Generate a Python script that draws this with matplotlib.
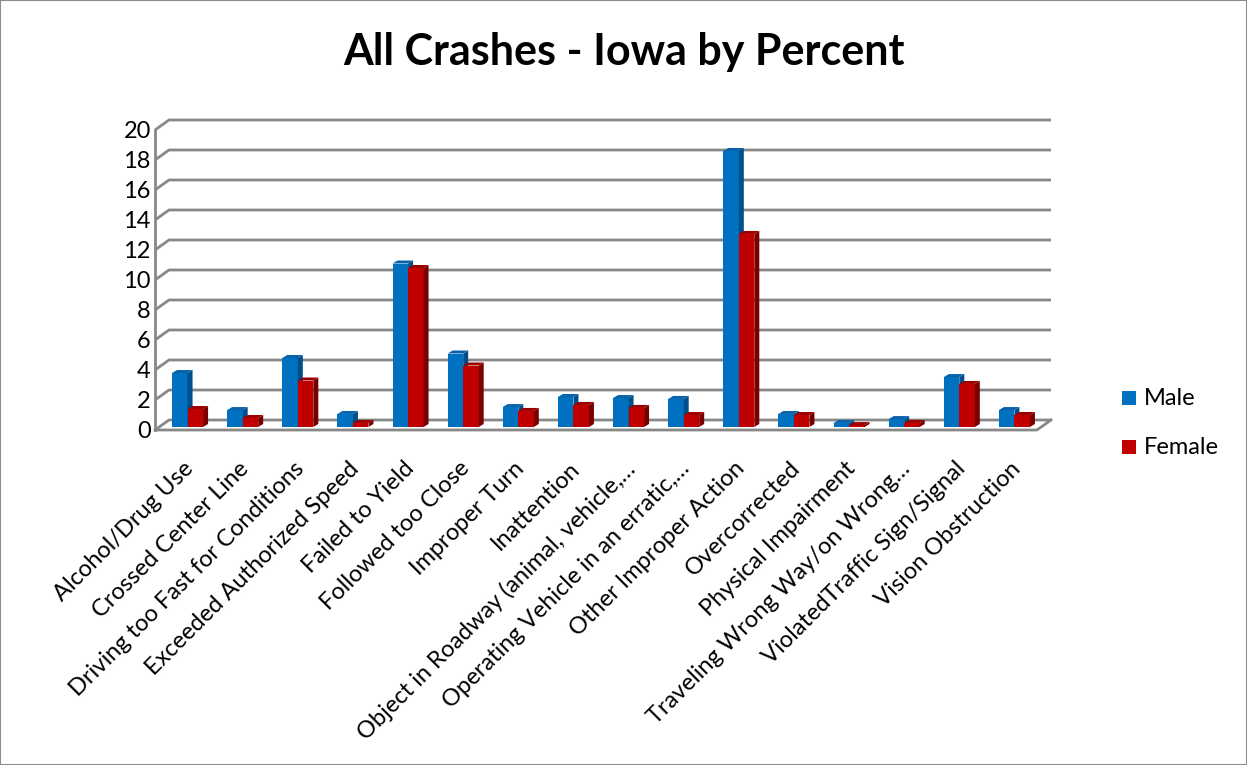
import matplotlib
matplotlib.use("Agg")
import matplotlib.pyplot as plt
from matplotlib.patches import Polygon, Rectangle

plt.rcParams['font.family'] = ['Lato', 'DejaVu Sans']

categories = [
    "Alcohol/Drug Use", "Crossed Center Line", "Driving too Fast for Conditions",
    "Exceeded Authorized Speed", "Failed to Yield", "Followed too Close",
    "Improper Turn", "Inattention", "Object in Roadway (animal, vehicle,\u2026",
    "Operating Vehicle in an erratic,\u2026", "Other Improper Action", "Overcorrected",
    "Physical Impairment", "Traveling Wrong Way/on Wrong\u2026",
    "ViolatedTraffic Sign/Signal", "Vision Obstruction",
]
male = [3.6, 1.13, 4.6, 0.87, 10.9, 4.9, 1.33, 2.0, 1.93, 1.87, 18.4, 0.87, 0.27, 0.53, 3.33, 1.13]
female = [1.2, 0.6, 3.1, 0.27, 10.6, 4.1, 1.07, 1.47, 1.27, 0.8, 12.87, 0.8, 0.13, 0.27, 2.87, 0.8]
yticks = list(range(0, 21, 2))

W, H = 1247, 765
fig = plt.figure(figsize=(W / 100, H / 100), dpi=100)
fig.patches.append(Rectangle((0, 0), 1, 1, transform=fig.transFigure, fill=False,
                             edgecolor='#8c8c8c', linewidth=1.5))

left_px, right_px, bot_px, top_px = 155, 1037, 430, 130
ax = fig.add_axes([left_px / W, (H - bot_px) / H, (right_px - left_px) / W, (bot_px - top_px) / H])
n = len(categories)
ax.set_xlim(-0.5, n - 0.5)
ax.set_ylim(0, 20)
for s in ax.spines.values():
    s.set_visible(False)

ux = (right_px - left_px) / n       # px per x unit
uy = (bot_px - top_px) / 20.0       # px per y unit
dX = 14 / ux
dY = 10 / uy
gcol = '#888888'

# walls / gridlines
for v in yticks:
    ax.plot([-0.5, -0.5 + dX, n - 0.5 + dX], [v, v + dY, v + dY], color=gcol, lw=2,
            clip_on=False, zorder=1, solid_capstyle='butt')
ax.plot([-0.5, -0.5], [0, 20], color=gcol, lw=2, clip_on=False, zorder=1)
ax.plot([-0.5, n - 0.5, n - 0.5 + dX], [0, 0, dY], color=gcol, lw=2, clip_on=False, zorder=1)

# bars
bw = 15.5 / ux
bdx = 5 / ux
bdy = 3 / uy
base = 3 / uy
shift = 5 / ux

def bar3d(x0, v, front, side, top):
    x1 = x0 + bw
    yb, yt = base, base + v
    ax.add_patch(Polygon([(x0, yb), (x1, yb), (x1, yt), (x0, yt)], closed=True,
                         facecolor=front, edgecolor='none', zorder=3, clip_on=False))
    ax.add_patch(Polygon([(x1, yb), (x1 + bdx, yb + bdy), (x1 + bdx, yt + bdy), (x1, yt)],
                         closed=True, facecolor=side, edgecolor='none', zorder=3, clip_on=False))
    ax.add_patch(Polygon([(x0, yt), (x1, yt), (x1 + bdx, yt + bdy), (x0 + bdx, yt + bdy)],
                         closed=True, facecolor=top, edgecolor='none', zorder=3, clip_on=False))

for i in range(n):
    c = i + shift
    bar3d(c - bw, male[i], '#0070C0', '#004F8A', '#0A63AA')
    bar3d(c, female[i], '#C00000', '#7A0000', '#9E0000')

ax.set_yticks(yticks)
ax.set_yticklabels([str(v) for v in yticks], fontsize=17)
ax.tick_params(axis='y', length=0, pad=3)
ax.set_xticks(range(n))
ax.set_xticklabels(categories, rotation=45, ha='right', va='top', rotation_mode='anchor', fontsize=17)
ax.tick_params(axis='x', length=0, pad=20)

fig.text(0.5, 1 - 52 / H, "All Crashes - Iowa by Percent", ha='center', va='center',
         fontsize=31, fontweight='bold')

# legend
for lbl, col, ypx in [("Male", '#0070C0', 398), ("Female", '#C00000', 447)]:
    fig.patches.append(Rectangle(((1122) / W, (H - ypx - 7) / H), 14 / W, 14 / H,
                                 transform=fig.transFigure, facecolor=col, edgecolor='none'))
    fig.text(1144 / W, 1 - ypx / H, lbl, ha='left', va='center', fontsize=17)

fig.savefig("out.png", dpi=100)
